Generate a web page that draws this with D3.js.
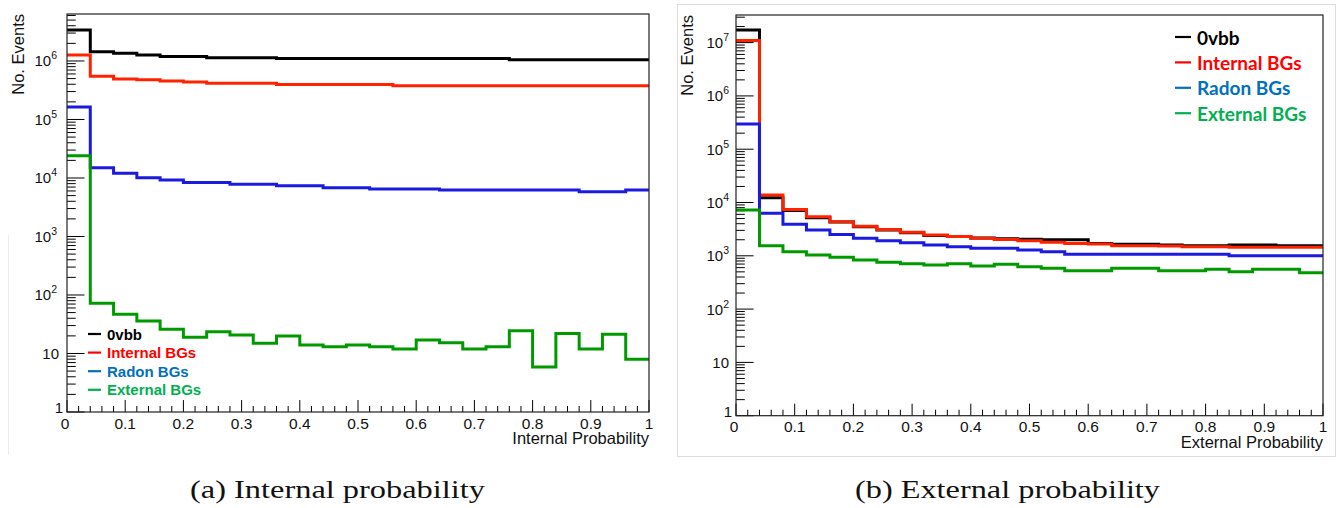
<!DOCTYPE html>
<html><head><meta charset="utf-8">
<script src="https://cdn.jsdelivr.net/npm/d3@7"></script>
<style>body{margin:0;background:#fff}svg{display:block}</style>
</head><body><svg id="c" width="1340" height="508"></svg>
<script>
// ---------------- data ----------------
const binEdges = [0,0.04,0.08,0.12,0.16,0.2,0.24,0.28,0.32,0.36,0.4,0.44,0.48,0.52,0.56,0.6,0.64,0.68,0.72,0.76,0.8,0.84,0.88,0.92,0.96,1];
const seriesNames = ["0vbb","Internal BGs","Radon BGs","External BGs"];
const lineColors = ["#000000","#ff2200","#1a1ae0","#009a00"];
const legendColors = ["#000000","#ff0000","#0070c0","#00b050"];

// Internal probability panel
const intBlack = [3.39e6,1.44e6,1.35e6,1.27e6,1.19e6,1.19e6,1.14e6,1.14e6,1.14e6,1.1e6,1.1e6,1.1e6,1.1e6,1.1e6,1.1e6,1.1e6,1.1e6,1.1e6,1.1e6,1.05e6,1.05e6,1.05e6,1.05e6,1.05e6,1.05e6];
const intRed   = [1.27e6,5.5e5,4.9e5,4.8e5,4.55e5,4.37e5,4.16e5,4.16e5,4.16e5,3.98e5,3.98e5,3.98e5,3.98e5,3.98e5,3.78e5,3.78e5,3.78e5,3.78e5,3.78e5,3.78e5,3.78e5,3.78e5,3.78e5,3.78e5,3.78e5];
const intBlue  = [1.63e5,1.5e4,1.2e4,1.01e4,9.2e3,8.4e3,8.4e3,7.8e3,7.8e3,7.4e3,7.4e3,6.8e3,6.8e3,6.5e3,6.5e3,6.5e3,6.24e3,6.24e3,6.24e3,6.24e3,6.24e3,6.24e3,5.8e3,5.8e3,6.24e3];
const intGreen = [2.4e4,72,47,36,26,19,23.5,20.7,15,20,14,13.1,14,13.1,11.9,17,15.3,11.9,13.1,24.5,5.9,22,11.9,21.3,7.95];

// External probability panel
const extBlack = [1.72e7,1.23e4,7.1e3,5.2e3,4.3e3,3.5e3,3.05e3,2.7e3,2.4e3,2.3e3,2.15e3,2.1e3,2.04e3,2.0e3,2.0e3,1.71e3,1.64e3,1.64e3,1.59e3,1.55e3,1.55e3,1.59e3,1.59e3,1.55e3,1.55e3];
const extRed   = [1.09e7,1.38e4,7.4e3,5.4e3,4.35e3,3.6e3,3.1e3,2.76e3,2.46e3,2.3e3,2.14e3,2.02e3,1.92e3,1.79e3,1.71e3,1.66e3,1.55e3,1.55e3,1.52e3,1.48e3,1.48e3,1.45e3,1.45e3,1.45e3,1.45e3];
const extBlue  = [2.96e5,6.3e3,3.9e3,3.05e3,2.5e3,2.14e3,1.92e3,1.76e3,1.59e3,1.48e3,1.38e3,1.38e3,1.28e3,1.19e3,1.07e3,1.07e3,1.07e3,1.07e3,1.07e3,1.07e3,1.07e3,1.0e3,1.0e3,1.0e3,1.0e3];
const extGreen = [7.2e3,1.55e3,1.19e3,1.03e3,935,830,755,710,675,710,645,692,625,582,525,525,582,582,525,525,558,503,558,558,482];

const xTickValues = [0,0.1,0.2,0.3,0.4,0.5,0.6,0.7,0.8,0.9,1];
const xTickLabels = ["0","0.1","0.2","0.3","0.4","0.5","0.6","0.7","0.8","0.9","1"];
const xTitles = ["Internal Probability","External Probability"];
const yTitle = "No. Events";
const captions = ["(a) Internal probability","(b) External probability"];

// ---------------- layout ----------------
const panels = [
  {L:67, R:649, T:14, B:412, yTop:Math.pow(10,6.803), series:[intBlack,intRed,intBlue,intGreen],
   gapSup:10, gap10:8, gap1:4, yTitleX:24,
   legend:{x1:88,x2:101,tx:107,y0:334,dy:18.6,font:"bold 15px 'Liberation Sans', Arial, sans-serif"},
   caption:{cx:337.5, w:295}},
  {L:736, R:1323, T:15, B:415.7, yTop:Math.pow(10,7.518), series:[extBlack,extRed,extBlue,extGreen],
   gapSup:7, gap10:7, gap1:4, yTitleX:693,
   legend:{x1:1175,x2:1191,tx:1197,y0:37,dy:25.4,font:"bold 19px Lato, 'Open Sans', sans-serif"},
   caption:{cx:1007.5, w:305}}
];

const svg = d3.select("#c");
svg.append("rect").attr("width",1340).attr("height",508).attr("fill","#fff");

// faint image borders
svg.append("line").attr("x1",8.5).attr("x2",8.5).attr("y1",235).attr("y2",455)
  .attr("stroke","#ececec").attr("stroke-width",1);
svg.append("rect").attr("x",677.5).attr("y",4.5).attr("width",658).attr("height",452)
  .attr("fill","none").attr("stroke","#dcdcdc").attr("stroke-width",1);

const sans = "'Liberation Sans', Arial, Helvetica, sans-serif";

panels.forEach((p,pi)=>{
  const g = svg.append("g");
  const x = d3.scaleLinear().domain([0,1]).range([p.L,p.R]);
  const y = d3.scaleLog().domain([1,p.yTop]).range([p.B,p.T]);
  const W = p.R-p.L, H = p.B-p.T;
  const majY = 0.03*W, minY = majY/2;
  const majX = 0.03*H, minX = majX/2;

  // x ticks
  const xMinor = d3.range(0,51).map(i=>i*0.02).filter(v=>Math.abs(v*10-Math.round(v*10))>1e-6);
  g.selectAll(null).data(xMinor).join("line")
    .attr("x1",d=>x(d)).attr("x2",d=>x(d)).attr("y1",p.B).attr("y2",p.B-minX)
    .attr("stroke","#000").attr("stroke-width",1);
  g.selectAll(null).data(xTickValues).join("line")
    .attr("x1",d=>x(d)).attr("x2",d=>x(d)).attr("y1",p.B).attr("y2",p.B-majX)
    .attr("stroke","#000").attr("stroke-width",1);
  g.selectAll(null).data(xTickValues).join("text")
    .attr("x",(d,i)=>x(d)-(i===0?2:0)).attr("y",p.B+16.5)
    .attr("text-anchor","middle").attr("font-family",sans).attr("font-size",15.5)
    .attr("fill","#111").text((d,i)=>xTickLabels[i]);

  // y ticks (log)
  const maxExp = Math.floor(Math.log10(p.yTop)+1e-9);
  const majors = d3.range(0,maxExp+1).map(e=>Math.pow(10,e));
  const minors = [];
  d3.range(0,maxExp+1).forEach(e=>{ for(let k=2;k<=9;k++){ const v=k*Math.pow(10,e); if(v<=p.yTop) minors.push(v);} });
  g.selectAll(null).data(minors).join("line")
    .attr("x1",p.L).attr("x2",p.L+minY).attr("y1",d=>y(d)).attr("y2",d=>y(d))
    .attr("stroke","#000").attr("stroke-width",1);
  g.selectAll(null).data(majors).join("line")
    .attr("x1",p.L).attr("x2",p.L+majY).attr("y1",d=>y(d)).attr("y2",d=>y(d))
    .attr("stroke","#000").attr("stroke-width",1);
  majors.forEach((v,e)=>{
    let gap = e===0?p.gap1:(e===1?p.gap10:p.gapSup);
    const t = g.append("text").attr("x",p.L-gap).attr("y",y(v)+(e===0?1:5.5))
      .attr("text-anchor","end").attr("font-family",sans).attr("font-size",15)
      .attr("fill","#111");
    if(e===0){ t.text("1"); }
    else if(e===1){ t.text("10"); }
    else { t.append("tspan").text("10"); t.append("tspan").attr("font-size",10.5).attr("dy",-7).text(String(e)); }
  });

  // histograms
  const line = d3.line().x(d=>x(d[0])).y(d=>y(d[1])).curve(d3.curveStepAfter);
  p.series.forEach((s,si)=>{
    const pts = s.map((v,i)=>[binEdges[i],v]);
    pts.push([binEdges[binEdges.length-1], s[s.length-1]]);
    g.append("path").attr("d",line(pts)).attr("fill","none")
      .attr("stroke",lineColors[si]).attr("stroke-width",3).attr("stroke-linejoin","miter")
      .attr("stroke-linecap","butt");
  });

  // frame
  g.append("rect").attr("x",p.L).attr("y",p.T).attr("width",W).attr("height",H)
    .attr("fill","none").attr("stroke","#222").attr("stroke-width",1.2);

  // axis titles
  g.append("text").attr("x",p.R).attr("y",p.B+32).attr("text-anchor","end")
    .attr("font-family",sans).attr("font-size",16.5).attr("fill","#111").text(xTitles[pi]);
  g.append("text").attr("transform",`translate(${p.yTitleX},${p.T}) rotate(-90)`)
    .attr("text-anchor","end").attr("font-family",sans).attr("font-size",16.5)
    .attr("fill","#111").text(yTitle);

  // legend
  const lg = p.legend;
  seriesNames.forEach((n,i)=>{
    const yy = lg.y0 + i*lg.dy;
    g.append("line").attr("x1",lg.x1).attr("x2",lg.x2).attr("y1",yy).attr("y2",yy)
      .attr("stroke",legendColors[i]).attr("stroke-width",2.2);
    g.append("text").attr("x",lg.tx).attr("y",yy).attr("dominant-baseline","central")
      .attr("style",`font:${lg.font}`).attr("fill",legendColors[i]).text(n);
  });

  // caption
  svg.append("text").attr("x",p.caption.cx).attr("y",498).attr("text-anchor","middle")
    .attr("font-family","'Liberation Serif','Times New Roman',serif").attr("font-size",25)
    .attr("textLength",p.caption.w).attr("lengthAdjust","spacingAndGlyphs")
    .attr("fill","#111").text(captions[pi]);
});
</script></body></html>
